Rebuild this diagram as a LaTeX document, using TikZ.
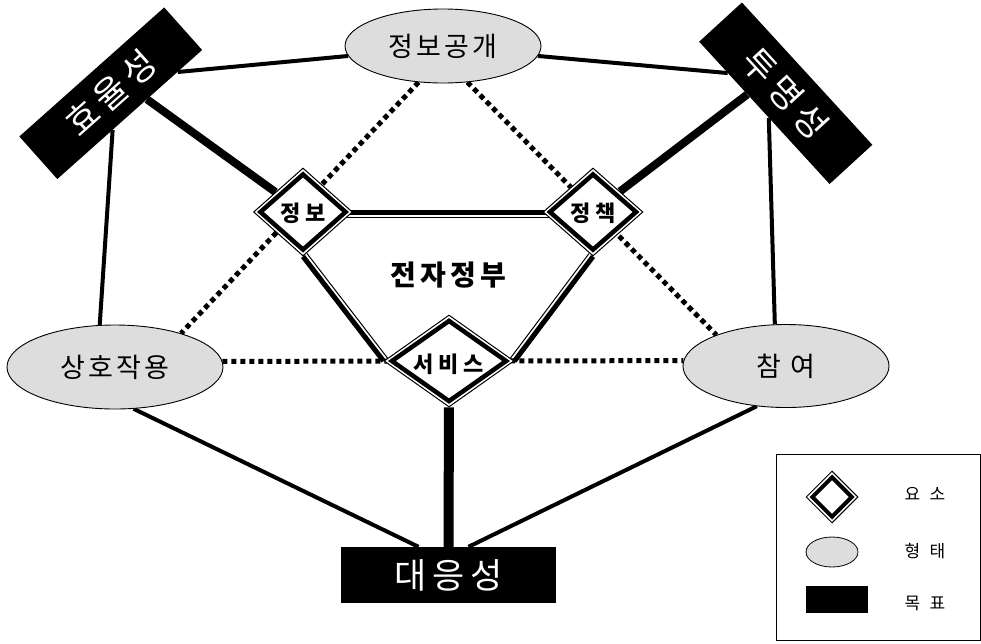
\documentclass[tikz,border=0pt]{standalone}
\usepackage{fontspec}
\setmainfont{Noto Sans CJK KR}
\usetikzlibrary{shapes.geometric,calc,backgrounds}
\definecolor{formgray}{HTML}{DDDDDD}
\pgfdeclarelayer{paper}
\pgfsetlayers{paper,background,main}
\newcommand\fsz[2]{\fontsize{#1}{#1}\selectfont\addfontfeature{LetterSpace=#2}}
\begin{document}
\begin{tikzpicture}[x=1pt,y=-1pt,
  form/.style={ellipse, draw, line width=0.9pt, fill=formgray, inner sep=0pt},
  goal/.style={rectangle, fill=black, text=white, inner sep=0pt, font=\fsz{35}{16}},
  dout/.style={diamond, draw, line width=1pt, fill=white, inner sep=0pt},
  din/.style={diamond, draw, line width=4.5pt, inner sep=0pt},
  dlabel/.style={inner sep=0pt, font=\bfseries\fsz{22}{22}},
  conn/.style={line width=4pt},
  boldconn/.style={line width=8pt},
  dotline/.style={line width=5pt, dash pattern=on 5pt off 4pt},
  frameline/.style={line width=5pt},
  innerline/.style={line width=1pt},
  leglabel/.style={inner sep=0pt, font=\fsz{17}{55}}]
\useasboundingbox (0,0) rectangle (981,643);
\begin{pgfonlayer}{paper}
\fill[white] (0,0) rectangle (981,643);
\end{pgfonlayer}

% forms (ellipses)
\node[form, minimum width=196pt, minimum height=74pt] (jg) at (443,46) {\fsz{27}{12}정보공개};
\node[form, minimum width=216pt, minimum height=84pt] (sh) at (115,367) {\fsz{27}{12}상호작용};
\node[form, minimum width=206pt, minimum height=83pt] (cy) at (786,366) {\fsz{27}{12}참 여};

% goals (black boxes)
\node[goal, rotate=41.7, minimum width=194pt, minimum height=57pt] (hy) at (110.75,93.25) {효율성};
\node[goal, rotate=-47.5, minimum width=193pt, minimum height=58pt] (tm) at (785.75,93.25) {투명성};
\node[goal, minimum width=215pt, minimum height=56pt] (dy) at (448.5,575) {대응성};

% elements (double diamonds)
\node[dout, minimum width=99pt, minimum height=88pt] (jb) at (303,212) {};
\node[din, minimum width=87pt, minimum height=77pt] (jbi) at (jb) {};
\node[dlabel] (jbl) at ([yshift=-1pt]jb.center) {정보};

\node[dout, minimum width=100pt, minimum height=88pt] (jc) at (593,212) {};
\node[din, minimum width=88pt, minimum height=77pt] (jci) at (jc) {};
\node[dlabel] (jcl) at ([yshift=-1pt]jc.center) {정책};

\node[dout, minimum width=130pt, minimum height=92pt] (sv) at (449,361) {};
\node[din, minimum width=116pt, minimum height=82pt] (svi) at (sv) {};
\node[dlabel] (svl) at ([yshift=-3pt]sv.center) {서비스};

\node[inner sep=0pt, font=\bfseries\fsz{28}{15}] (ez) at (448,275) {전자정부};

% legend
\node[draw, line width=1pt, minimum width=204pt, minimum height=186pt, anchor=north west, inner sep=0pt] (lg) at (775.5,454) {};
\node[dout, minimum width=52pt, minimum height=52pt] (ld) at (832,497) {};
\node[din, line width=4pt, minimum width=41pt, minimum height=41pt] (ldi) at (ld) {};
\node[form, line width=0.8pt, minimum width=52pt, minimum height=30pt] (le) at (832,552) {};
\node[fill=black, minimum width=62pt, minimum height=27pt, inner sep=0pt] (lr) at (837,599.5) {};
\node[leglabel] (l1) at (925,494) {요소};
\node[leglabel] (l2) at (925,551) {형태};
\node[leglabel] (l3) at (925,603) {목표};

\begin{pgfonlayer}{background}
% dotted relations
\draw[dotline] (jg.-124) -- (sh.27);
\draw[dotline] (jg.-56) -- (cy.156);
\draw[dotline] (sh.3) -- (cy.177);
% solid relations
\draw[conn] ($(hy.south)!0.66!(hy.south east)$) -- (jg.186);
\draw[boldconn] ($(hy.south)!0.237!(hy.south east)$) -- (jb);
\draw[conn] ($(hy.south)!0.237!(hy.south west)$) -- (sh.110);
\draw[conn] ($(tm.south)!0.56!(tm.south west)$) -- (jg.-6);
\draw[boldconn] ($(tm.south)!0.26!(tm.south west)$) -- (jc);
\draw[conn] ($(tm.south)!0.07!(tm.south east)$) -- (cy.105);
\draw[conn] (sh.-66) -- ([xshift=-30pt]dy.north);
\draw[conn] (cy.-126) -- ([xshift=20pt]dy.north);
\draw[line width=10pt] (dy) -- (sv);
% e-government frame
\draw[frameline] (jb.center) -- (jc.center);
\draw[innerline] ([yshift=-5pt]jb.center) -- ([yshift=-5pt]jc.center);
\draw[frameline] (jb.south) -- (sv.west);
\draw[innerline] ([shift={(3.96pt,3.06pt)}]jb.south) -- ([shift={(3.96pt,3.06pt)}]sv.west);
\draw[frameline] (jc.south) -- (sv.east);
\draw[innerline] ([shift={(-4pt,3pt)}]jc.south) -- ([shift={(-4pt,3pt)}]sv.east);
\end{pgfonlayer}
\end{tikzpicture}
\end{document}
